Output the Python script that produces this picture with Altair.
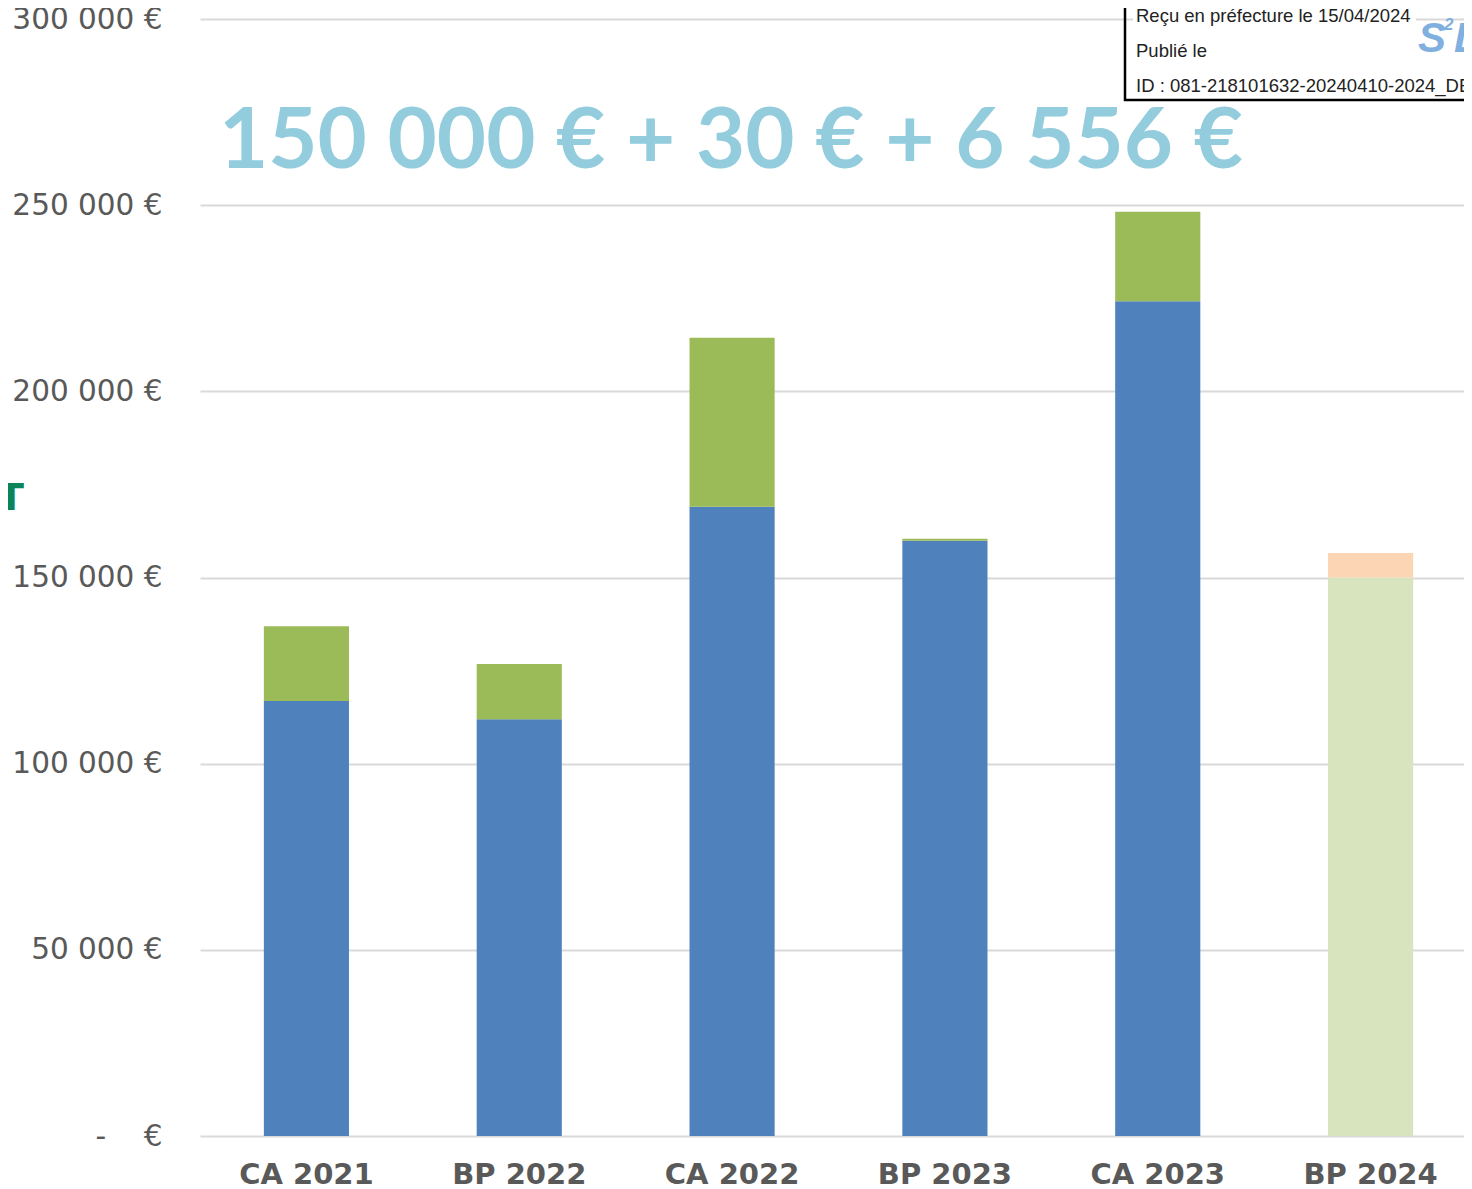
import altair as alt
import pandas as pd

categories = ["CA 2021", "BP 2022", "CA 2022", "BP 2023", "CA 2023", "BP 2024"]
series_names = ["Base", "Complément", "BP base", "BP 30", "BP complément"]
base_values = [116800, 111900, 169000, 159900, 224200, 0]
complement_values = [20100, 14900, 45400, 500, 24000, 0]
bp_base_values = [0, 0, 0, 0, 0, 150000]
bp_30_values = [0, 0, 0, 0, 0, 30]
bp_complement_values = [0, 0, 0, 0, 0, 6556]
series_colors = ["#4F81BD", "#9BBB59", "#D7E4BD", "#B9CDE5", "#FCD5B5"]

y_tick_values = [0, 50000, 100000, 150000, 200000, 250000, 300000]
y_tick_labels = ["-\u00a0\u00a0\u00a0 €", "50 000 €", "100 000 €", "150 000 €",
                 "200 000 €", "250 000 €", "300 000 €"]

headline = ["150 000 € + 30 € + 6 556 €"]
stamp_lines = ["Reçu en préfecture le 15/04/2024", "Publié le",
               "ID : 081-218101632-20240410-2024_DE"]
side_letter = ["T"]

rows = []
all_series = [base_values, complement_values, bp_base_values, bp_30_values, bp_complement_values]
for si, (name, vals) in enumerate(zip(series_names, all_series)):
    for cat, v in zip(categories, vals):
        rows.append({"cat": cat, "serie": name, "val": v, "ord": si})
df = pd.DataFrame(rows)

label_expr = " : ".join(
    f"datum.value == {v} ? '{l}'" for v, l in zip(y_tick_values, y_tick_labels)
) + " : ''"

bars = alt.Chart(df).mark_bar().encode(
    x=alt.X("cat:N", sort=categories,
            scale=alt.Scale(range=[0, 1277], paddingInner=0.6, paddingOuter=0.3),
            axis=alt.Axis(title=None, labelFont="DejaVu Sans", labelFontWeight="bold",
                          labelFontSize=29, labelColor="#595959", labelPadding=24,
                          labelAngle=0, domain=False, ticks=False, grid=False)),
    y=alt.Y("val:Q", stack="zero",
            scale=alt.Scale(domain=[0, 300000], nice=False),
            axis=alt.Axis(title=None, values=y_tick_values, labelExpr=label_expr,
                          labelFont="DejaVu Sans", labelFontSize=29.5, labelColor="#595959",
                          labelPadding=38, domain=False, ticks=False,
                          gridColor="#D9D9D9", gridWidth=2)),
    color=alt.Color("serie:N", scale=alt.Scale(domain=series_names, range=series_colors),
                    legend=None),
    order=alt.Order("ord:Q"),
)

one = pd.DataFrame({"k": [0]})

title_text = alt.Chart(pd.DataFrame({"t": headline})).mark_text(
    font="Lato", fontWeight="bold", fontSize=85, color="#93CDDD",
    align="left", baseline="alphabetic"
).encode(text="t:N", x=alt.value(19), y=alt.value(149))

box = alt.Chart(one).mark_rect(fill=None, stroke="#000000", strokeWidth=2.5).encode(
    x=alt.value(925), x2=alt.value(1320), y=alt.value(-40), y2=alt.value(81)
)
white_bg = alt.Chart(one).mark_rect(color="white").encode(
    x=alt.value(933), x2=alt.value(1216), y=alt.value(-12), y2=alt.value(7)
)
stamp = alt.Chart(pd.DataFrame({"t": stamp_lines, "yy": [3, 38, 73]})).mark_text(
    font="Liberation Sans", fontSize=18.5, color="#222222", align="left", baseline="alphabetic"
).encode(text="t:N", x=alt.value(936), y=alt.Y("yy:Q", scale=None))

logo_s = alt.Chart(pd.DataFrame({"t": ["S"]})).mark_text(
    font="Liberation Sans", fontStyle="italic", fontWeight="bold", fontSize=42,
    color="#7FB0E0", align="left", baseline="alphabetic"
).encode(text="t:N", x=alt.value(1218), y=alt.value(33))
logo_2 = alt.Chart(pd.DataFrame({"t": ["2"]})).mark_text(
    font="Liberation Sans", fontStyle="italic", fontWeight="bold", fontSize=17,
    color="#7FB0E0", align="left", baseline="alphabetic"
).encode(text="t:N", x=alt.value(1244), y=alt.value(11))
logo_l = alt.Chart(pd.DataFrame({"t": ["L"]})).mark_text(
    font="Liberation Sans", fontStyle="italic", fontWeight="bold", fontSize=42,
    color="#7FB0E0", align="left", baseline="alphabetic"
).encode(text="t:N", x=alt.value(1254), y=alt.value(33))

letter = alt.Chart(pd.DataFrame({"t": side_letter})).mark_text(
    font="DejaVu Sans", fontWeight="bold", fontSize=38, color="#0B8457",
    align="center", baseline="alphabetic"
).encode(text="t:N", x=alt.value(-189), y=alt.value(491))

chart = alt.layer(bars, title_text, white_bg, stamp, box, logo_s, logo_2, logo_l, letter).properties(
    width=1264, height=1117,
    autosize=alt.AutoSizeParams(type="none"),
    padding={"left": 192, "top": 11, "right": 0, "bottom": 53},
).configure_view(stroke=None)

chart.save("out.html", embed_options={"renderer": "svg", "actions": False})
